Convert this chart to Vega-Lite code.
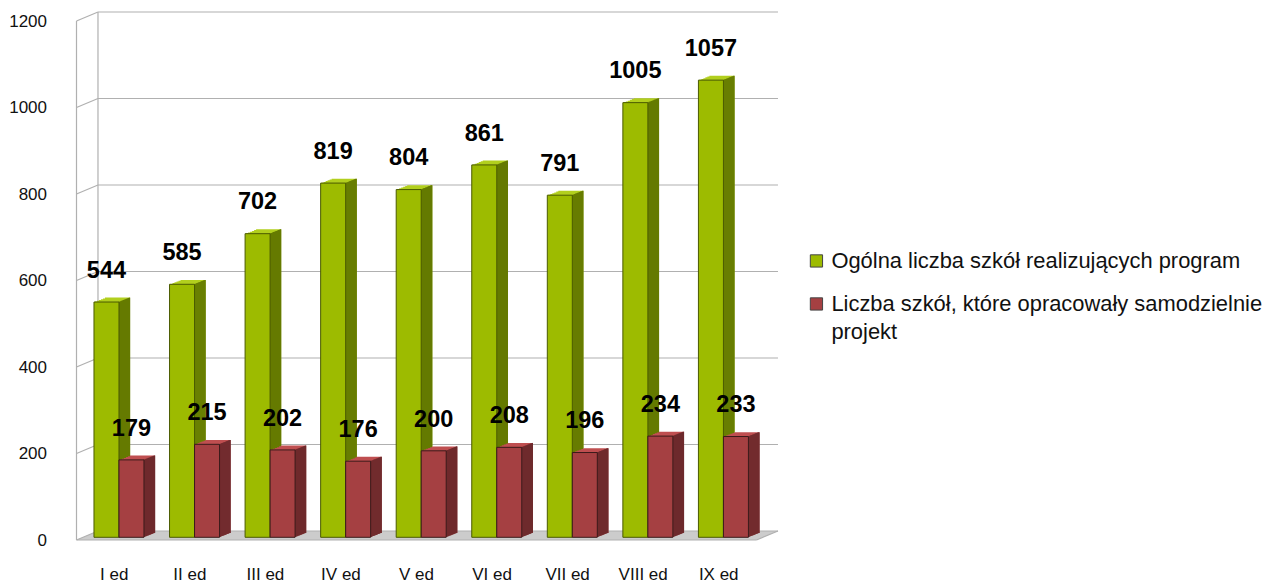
{
"$schema":"https://vega.github.io/schema/vega-lite/v6.json",
"width":680,"height":519,
"autosize":{"type":"none"},
"padding":{"left":76.5,"top":21,"right":507.5,"bottom":42},
"background":"white",
"config":{"view":{"stroke":null},"font":"Liberation Sans","axis":{"labelFont":"Liberation Sans","labelFontSize":17,"labelColor":"#111"}},
"data":{"values":[
{"ed":"I ed","s":"Ogólna liczba szkół realizujących program","v":544},{"ed":"II ed","s":"Ogólna liczba szkół realizujących program","v":585},{"ed":"III ed","s":"Ogólna liczba szkół realizujących program","v":702},{"ed":"IV ed","s":"Ogólna liczba szkół realizujących program","v":819},{"ed":"V ed","s":"Ogólna liczba szkół realizujących program","v":804},{"ed":"VI ed","s":"Ogólna liczba szkół realizujących program","v":861},{"ed":"VII ed","s":"Ogólna liczba szkół realizujących program","v":791},{"ed":"VIII ed","s":"Ogólna liczba szkół realizujących program","v":1005},{"ed":"IX ed","s":"Ogólna liczba szkół realizujących program","v":1057},
{"ed":"I ed","s":"Liczba szkół, które opracowały samodzielnie projekt","v":179},{"ed":"II ed","s":"Liczba szkół, które opracowały samodzielnie projekt","v":215},{"ed":"III ed","s":"Liczba szkół, które opracowały samodzielnie projekt","v":202},{"ed":"IV ed","s":"Liczba szkół, które opracowały samodzielnie projekt","v":176},{"ed":"V ed","s":"Liczba szkół, które opracowały samodzielnie projekt","v":200},{"ed":"VI ed","s":"Liczba szkół, które opracowały samodzielnie projekt","v":208},{"ed":"VII ed","s":"Liczba szkół, które opracowały samodzielnie projekt","v":196},{"ed":"VIII ed","s":"Liczba szkół, które opracowały samodzielnie projekt","v":234},{"ed":"IX ed","s":"Liczba szkół, które opracowały samodzielnie projekt","v":233}
]},
"encoding":{
"y":{"field":"v","type":"quantitative","scale":{"domain":[0,1200]},"axis":{"title":null,"values":[0,200,400,600,800,1000,1200],"format":"d","grid":false,"ticks":false,"domain":false,"labelPadding":30}}
},
"layer":[
{"encoding":{
  "x":{"field":"along","type":"quantitative","scale":{"domain":[0,1],"range":[0,680],"clamp":false},"axis":null}},
 "layer":[
 {"data":{"values":[
 {"along":0,"v":0,"v2":0},{"along":0.0316,"v":0,"v2":20.8},{"along":1,"v":0,"v2":20.8},{"along":1.0316,"v":20.8,"v2":20.8}
 ]},"mark":{"type":"area","fill":"#cccccc","clip":false},"encoding":{"y2":{"field":"v2"}}},
 {"data":{"values":[
 {"k":"g0","v":20.8,"along":0.0316},{"k":"g0","v":20.8,"along":1.0316},
 {"k":"g1","v":220.8,"along":0.0316},{"k":"g1","v":220.8,"along":1.0316},
 {"k":"g2","v":420.8,"along":0.0316},{"k":"g2","v":420.8,"along":1.0316},
 {"k":"g3","v":620.8,"along":0.0316},{"k":"g3","v":620.8,"along":1.0316},
 {"k":"g4","v":820.8,"along":0.0316},{"k":"g4","v":820.8,"along":1.0316},
 {"k":"g5","v":1020.8,"along":0.0316},{"k":"g5","v":1020.8,"along":1.0316},
 {"k":"g6","v":1220.8,"along":0.0316},{"k":"g6","v":1220.8,"along":1.0316},
 {"k":"s0","v":0,"along":0},{"k":"s0","v":20.8,"along":0.0316},
 {"k":"s1","v":200,"along":0},{"k":"s1","v":220.8,"along":0.0316},
 {"k":"s2","v":400,"along":0},{"k":"s2","v":420.8,"along":0.0316},
 {"k":"s3","v":600,"along":0},{"k":"s3","v":620.8,"along":0.0316},
 {"k":"s4","v":800,"along":0},{"k":"s4","v":820.8,"along":0.0316},
 {"k":"s5","v":1000,"along":0},{"k":"s5","v":1020.8,"along":0.0316},
 {"k":"s6","v":1200,"along":0},{"k":"s6","v":1220.8,"along":0.0316},
 {"k":"fv","v":0,"along":0},{"k":"fv","v":1200,"along":0},
 {"k":"bv","v":20.8,"along":0.0316},{"k":"bv","v":1220.8,"along":0.0316},
 {"k":"fh","v":0,"along":0},{"k":"fh","v":0,"along":1},
 {"k":"re","v":0,"along":1},{"k":"re","v":20.8,"along":1.0316}
 ]},"mark":{"type":"line","stroke":"#b0b0b0","strokeWidth":1.2,"clip":false},"encoding":{"detail":{"field":"k"}}}
 ]},
{"encoding":{"x":{"field":"ed","type":"nominal","sort":null,"scale":{"paddingInner":0,"paddingOuter":0},"axis":{"title":null,"labelAngle":0,"ticks":false,"domain":false,"labelPadding":26}}},
 "layer":[
{"transform":[{"filter":"indexof(datum.s,'Ogólna')==0"}],"layer":[
 {"mark":{"type":"bar","width":25,"fill":"#B2CF1E","xOffset":3.2,"yOffset":-7.1,"y2Offset":-7.1}},
 {"mark":{"type":"bar","width":25,"fill":"#B2CF1E","xOffset":1.2,"yOffset":-6.3,"y2Offset":-6.3}},
 {"mark":{"type":"bar","width":25,"fill":"#B2CF1E","xOffset":-0.8,"yOffset":-5.5,"y2Offset":-5.5}},
 {"mark":{"type":"bar","width":25,"fill":"#B2CF1E","xOffset":-2.8,"yOffset":-4.7,"y2Offset":-4.7}},
 {"mark":{"type":"bar","width":25,"fill":"#B2CF1E","xOffset":-4.8,"yOffset":-3.9,"y2Offset":-3.9}},
 {"mark":{"type":"bar","width":25,"fill":"#B2CF1E","xOffset":-6.8,"yOffset":-3.1,"y2Offset":-3.1}},
 {"mark":{"type":"bar","width":1.5,"fill":"#657A00","xOffset":15.2,"yOffset":-7.1,"y2Offset":-7.1}},
 {"mark":{"type":"bar","width":1.5,"fill":"#657A00","xOffset":14.2,"yOffset":-6.7,"y2Offset":-6.7}},
 {"mark":{"type":"bar","width":1.5,"fill":"#657A00","xOffset":13.2,"yOffset":-6.3,"y2Offset":-6.3}},
 {"mark":{"type":"bar","width":1.5,"fill":"#657A00","xOffset":12.2,"yOffset":-5.9,"y2Offset":-5.9}},
 {"mark":{"type":"bar","width":1.5,"fill":"#657A00","xOffset":11.2,"yOffset":-5.5,"y2Offset":-5.5}},
 {"mark":{"type":"bar","width":1.5,"fill":"#657A00","xOffset":10.2,"yOffset":-5.1,"y2Offset":-5.1}},
 {"mark":{"type":"bar","width":1.5,"fill":"#657A00","xOffset":9.2,"yOffset":-4.7,"y2Offset":-4.7}},
 {"mark":{"type":"bar","width":1.5,"fill":"#657A00","xOffset":8.2,"yOffset":-4.3,"y2Offset":-4.3}},
 {"mark":{"type":"bar","width":1.5,"fill":"#657A00","xOffset":7.2,"yOffset":-3.9,"y2Offset":-3.9}},
 {"mark":{"type":"bar","width":1.5,"fill":"#657A00","xOffset":6.2,"yOffset":-3.5,"y2Offset":-3.5}},
 {"mark":{"type":"bar","width":1.5,"fill":"#657A00","xOffset":5.2,"yOffset":-3.1,"y2Offset":-3.1}}
]},
{"transform":[{"filter":"indexof(datum.s,'Ogólna')==0"}],"mark":{"type":"bar","width":25,"stroke":"#4A5A00","strokeWidth":1,"xOffset":-7.8,"yOffset":-2.7,"y2Offset":-2.7},
  "encoding":{"color":{"field":"s","type":"nominal","scale":{"domain":["Ogólna liczba szkół realizujących program","Liczba szkół, które opracowały samodzielnie projekt"],"range":["#9DBB00","#A54042"]},
  "legend":{"orient":"none","legendX":729,"legendY":229,"title":null,"symbolType":"square","symbolSize":150,"symbolOpacity":1,"symbolStrokeWidth":1,"symbolStrokeColor":"#444","labelFont":"Liberation Sans","labelFontSize":21.9,"labelLimit":480,"rowPadding":20,"labelOffset":4,"labelColor":"#111",
  "encoding":{"labels":{"lineHeight":{"value":28}},"symbols":{"fill":[{"test":"indexof(datum.label,'Og')==0","value":"#A4C400"},{"value":"#B84B4D"}]}},
  "labelExpr":"indexof(datum.label,'projekt')>0 ? ['Liczba szkół, które opracowały samodzielnie','projekt'] : datum.label"}}}},
{"transform":[{"filter":"indexof(datum.s,'Liczba')==0"}],"layer":[
 {"mark":{"type":"bar","width":25,"fill":"#BF4F51","xOffset":28.2,"yOffset":-7.1,"y2Offset":-7.1}},
 {"mark":{"type":"bar","width":25,"fill":"#BF4F51","xOffset":26.2,"yOffset":-6.3,"y2Offset":-6.3}},
 {"mark":{"type":"bar","width":25,"fill":"#BF4F51","xOffset":24.2,"yOffset":-5.5,"y2Offset":-5.5}},
 {"mark":{"type":"bar","width":25,"fill":"#BF4F51","xOffset":22.2,"yOffset":-4.7,"y2Offset":-4.7}},
 {"mark":{"type":"bar","width":25,"fill":"#BF4F51","xOffset":20.2,"yOffset":-3.9,"y2Offset":-3.9}},
 {"mark":{"type":"bar","width":25,"fill":"#BF4F51","xOffset":18.2,"yOffset":-3.1,"y2Offset":-3.1}},
 {"mark":{"type":"bar","width":1.5,"fill":"#6E2A2C","xOffset":40.2,"yOffset":-7.1,"y2Offset":-7.1}},
 {"mark":{"type":"bar","width":1.5,"fill":"#6E2A2C","xOffset":39.2,"yOffset":-6.7,"y2Offset":-6.7}},
 {"mark":{"type":"bar","width":1.5,"fill":"#6E2A2C","xOffset":38.2,"yOffset":-6.3,"y2Offset":-6.3}},
 {"mark":{"type":"bar","width":1.5,"fill":"#6E2A2C","xOffset":37.2,"yOffset":-5.9,"y2Offset":-5.9}},
 {"mark":{"type":"bar","width":1.5,"fill":"#6E2A2C","xOffset":36.2,"yOffset":-5.5,"y2Offset":-5.5}},
 {"mark":{"type":"bar","width":1.5,"fill":"#6E2A2C","xOffset":35.2,"yOffset":-5.1,"y2Offset":-5.1}},
 {"mark":{"type":"bar","width":1.5,"fill":"#6E2A2C","xOffset":34.2,"yOffset":-4.7,"y2Offset":-4.7}},
 {"mark":{"type":"bar","width":1.5,"fill":"#6E2A2C","xOffset":33.2,"yOffset":-4.3,"y2Offset":-4.3}},
 {"mark":{"type":"bar","width":1.5,"fill":"#6E2A2C","xOffset":32.2,"yOffset":-3.9,"y2Offset":-3.9}},
 {"mark":{"type":"bar","width":1.5,"fill":"#6E2A2C","xOffset":31.2,"yOffset":-3.5,"y2Offset":-3.5}},
 {"mark":{"type":"bar","width":1.5,"fill":"#6E2A2C","xOffset":30.2,"yOffset":-3.1,"y2Offset":-3.1}}
]},
{"transform":[{"filter":"indexof(datum.s,'Liczba')==0"}],"mark":{"type":"bar","width":25,"stroke":"#3A1A1A","strokeWidth":1,"xOffset":17.2,"yOffset":-2.7,"y2Offset":-2.7},
  "encoding":{"color":{"field":"s","type":"nominal"}}},
{"transform":[{"filter":"indexof(datum.s,'Ogólna')==0"}],"mark":{"type":"text","font":"Liberation Sans","fontWeight":"bold","fontSize":23.5,"color":"#000","xOffset":-7.8,"yOffset":-34},"encoding":{"text":{"field":"v","type":"nominal"}}},
{"transform":[{"filter":"indexof(datum.s,'Liczba')==0"}],"mark":{"type":"text","font":"Liberation Sans","fontWeight":"bold","fontSize":23.5,"color":"#000","xOffset":17.2,"yOffset":-34},"encoding":{"text":{"field":"v","type":"nominal"}}}
]}
],
"resolve":{"scale":{"x":"independent"},"axis":{"x":"independent"}}
}
